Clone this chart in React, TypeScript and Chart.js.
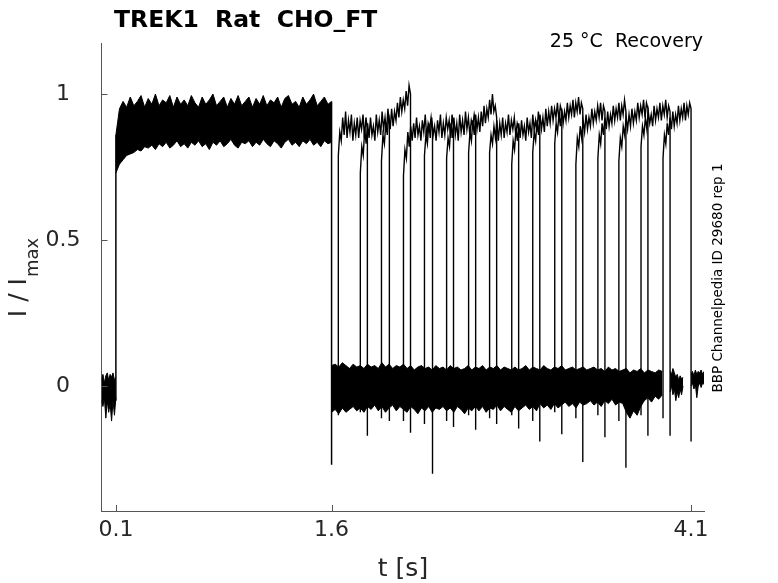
import { useEffect, useRef } from 'react';
import { Chart, registerables, ChartConfiguration, Plugin } from 'chart.js';

Chart.register(...registerables);

// axis ticks
const xTicks = [0.1, 1.6, 4.1];
const yTicks = [0, 0.5, 1];

// pulse on / off for the conditioning step
const onTime = 0.1;
const offTime = 1.6;
const onEdgeLow = -0.05;
const offSpike = -0.27;

// baseline before the pulse, t = 0 .. 0.1 (step 0.01)
const preStep = 0.01;
const preTop = [0.02, 0.04, 0.01, 0.035, 0.045, 0.02, 0.04, 0.03, 0.045, 0.02, 0.03];
const preBot = [-0.05, -0.07, -0.04, -0.11, -0.05, -0.09, -0.06, -0.12, -0.05, -0.1, -0.04];

// conditioning pulse envelope, t = 0.1 .. 1.6 (step 0.025)
const activeStep = 0.025;
const activeTop = [
  0.86, 0.95, 0.975, 0.955, 0.99, 0.96, 0.975, 0.995, 0.955, 0.985,
  0.965, 1.0, 0.96, 0.98, 0.97, 0.995, 0.955, 0.99, 0.965, 0.98,
  0.96, 0.995, 0.97, 0.955, 0.99, 0.965, 0.98, 1.0, 0.96, 0.975,
  0.99, 0.955, 0.985, 0.965, 0.995, 0.96, 0.975, 0.99, 0.955, 0.985,
  0.965, 0.995, 0.96, 0.98, 0.97, 0.99, 0.955, 0.985, 0.995, 0.965,
  0.975, 0.955, 0.99, 0.965, 0.98, 1.0, 0.96, 0.975, 0.99, 0.965, 0.975,
];
const activeBot = [
  0.73, 0.76, 0.775, 0.79, 0.795, 0.8, 0.81, 0.805, 0.82, 0.815,
  0.825, 0.81, 0.83, 0.82, 0.835, 0.815, 0.825, 0.84, 0.82, 0.83,
  0.815, 0.835, 0.825, 0.84, 0.82, 0.83, 0.81, 0.835, 0.825, 0.84,
  0.82, 0.83, 0.845, 0.825, 0.815, 0.835, 0.83, 0.84, 0.82, 0.835,
  0.825, 0.845, 0.83, 0.82, 0.84, 0.83, 0.815, 0.835, 0.845, 0.825,
  0.835, 0.82, 0.84, 0.83, 0.845, 0.825, 0.835, 0.82, 0.84, 0.83, 0.835,
];

// baseline after the pulse, t = 1.6 .. 3.9 (step 0.025)
const baseStep = 0.025;
const baseTop = [
  0.07, 0.075, 0.065, 0.08, 0.07, 0.06, 0.075, 0.065, 0.07, 0.06, 0.075,
  0.065, 0.07, 0.06, 0.08, 0.065, 0.075, 0.06, 0.07, 0.065, 0.075,
  0.06, 0.07, 0.055, 0.065, 0.07, 0.06, 0.065, 0.055, 0.07, 0.06,
  0.065, 0.055, 0.07, 0.06, 0.065, 0.055, 0.06, 0.07, 0.055, 0.065,
  0.06, 0.07, 0.055, 0.065, 0.06, 0.07, 0.055, 0.065, 0.06, 0.055,
  0.065, 0.055, 0.06, 0.07, 0.055, 0.065, 0.06, 0.055, 0.07, 0.06,
  0.055, 0.065, 0.06, 0.07, 0.055, 0.06, 0.065, 0.055, 0.06, 0.065,
  0.055, 0.06, 0.065, 0.055, 0.06, 0.05, 0.065, 0.055, 0.06, 0.05,
  0.055, 0.06, 0.045, 0.055, 0.05, 0.06, 0.045, 0.055, 0.05, 0.045,
  0.055, 0.05,
];
const baseBot = [
  -0.09, -0.08, -0.095, -0.075, -0.09, -0.08, -0.07, -0.085, -0.075, -0.09, -0.07,
  -0.08, -0.065, -0.085, -0.07, -0.09, -0.075, -0.065, -0.085, -0.07, -0.08,
  -0.09, -0.07, -0.08, -0.095, -0.075, -0.085, -0.07, -0.09, -0.075, -0.08,
  -0.07, -0.085, -0.075, -0.09, -0.07, -0.08, -0.095, -0.075, -0.085, -0.07,
  -0.085, -0.07, -0.09, -0.075, -0.08, -0.065, -0.085, -0.07, -0.08, -0.09,
  -0.07, -0.085, -0.075, -0.065, -0.08, -0.07, -0.085, -0.06, -0.075, -0.065,
  -0.08, -0.06, -0.075, -0.065, -0.055, -0.07, -0.06, -0.075, -0.055, -0.065,
  -0.06, -0.05, -0.065, -0.055, -0.07, -0.05, -0.06, -0.045, -0.065, -0.055,
  -0.06, -0.09, -0.11, -0.085, -0.1, -0.07, -0.05, -0.04, -0.055, -0.035,
  -0.045, -0.03,
];

// short baseline pieces at the end (step 0.01)
const tailStep = 0.01;
const tailAStart = 3.954;
const tailATop = [0.05, 0.04, 0.06, 0.045, 0.03, 0.04, 0.02, 0.035, 0.025, 0.03];
const tailABot = [-0.02, 0.0, -0.03, -0.01, -0.05, -0.02, -0.04, -0.01, -0.03, 0.0];
const tailBStart = 4.1;
const tailBTop = [0.04, 0.05, 0.035, 0.055, 0.04, 0.05, 0.045, 0.055, 0.04, 0.05];
const tailBBot = [0.0, 0.01, -0.01, 0.005, -0.04, 0.0, 0.01, -0.005, 0.01, 0.005];

// recovery test pulses
const upTimes = [1.647, 1.8, 1.947, 2.1, 2.246, 2.4, 2.553, 2.699, 2.853, 2.999, 3.152, 3.299, 3.452, 3.598, 3.752, 3.905];
const downTimes = [1.849, 2.002, 2.149, 2.302, 2.448, 2.602, 2.748, 2.901, 3.048, 3.201, 3.347, 3.501, 3.647, 3.8, 3.954, 4.1];
const upSpikes = [-0.1, -0.09, -0.11, -0.12, -0.13, -0.12, -0.1, -0.11, -0.1, -0.12, -0.09, -0.11, -0.1, -0.12, -0.1, -0.11];
const downSpikes = [-0.17, -0.12, -0.16, -0.3, -0.14, -0.15, -0.13, -0.145, -0.19, -0.165, -0.26, -0.175, -0.28, -0.17, -0.17, -0.19];
const sweepTraces = [
  [0.79, 0.87, 0.84, 0.92, 0.86, 0.94, 0.85, 0.91, 0.87, 0.93, 0.84, 0.9, 0.86, 0.92, 0.85, 0.91, 0.88, 0.93, 0.85, 0.92, 0.88],
  [0.73, 0.82, 0.79, 0.88, 0.83, 0.9, 0.85, 0.92, 0.86, 0.89, 0.84, 0.93, 0.87, 0.91, 0.86, 0.94, 0.88, 0.92, 0.87, 0.95, 0.9],
  [0.77, 0.86, 0.83, 0.9, 0.86, 0.93, 0.88, 0.95, 0.89, 0.94, 0.91, 0.97, 0.92, 0.99, 0.94, 0.98, 0.95, 1.01, 0.96, 1.03, 1.0],
  [0.72, 0.81, 0.78, 0.87, 0.82, 0.89, 0.84, 0.9, 0.85, 0.92, 0.86, 0.89, 0.84, 0.91, 0.87, 0.93, 0.85, 0.9, 0.88, 0.92, 0.87],
  [0.79, 0.86, 0.83, 0.9, 0.85, 0.92, 0.86, 0.89, 0.84, 0.91, 0.87, 0.93, 0.85, 0.9, 0.86, 0.92, 0.88, 0.91, 0.85, 0.93, 0.89],
  [0.78, 0.85, 0.82, 0.9, 0.85, 0.92, 0.86, 0.9, 0.84, 0.93, 0.87, 0.91, 0.86, 0.94, 0.88, 0.92, 0.86, 0.91, 0.89, 0.93, 0.9],
  [0.8, 0.87, 0.84, 0.91, 0.86, 0.93, 0.88, 0.92, 0.87, 0.94, 0.89, 0.96, 0.9, 0.95, 0.92, 0.98, 0.93, 1.0, 0.94, 0.96, 0.92],
  [0.8, 0.86, 0.83, 0.89, 0.85, 0.91, 0.84, 0.9, 0.86, 0.92, 0.85, 0.9, 0.87, 0.93, 0.86, 0.91, 0.88, 0.92, 0.86, 0.9, 0.88],
  [0.76, 0.84, 0.81, 0.88, 0.84, 0.9, 0.85, 0.91, 0.86, 0.89, 0.84, 0.92, 0.87, 0.9, 0.85, 0.93, 0.88, 0.91, 0.87, 0.94, 0.9],
  [0.8, 0.87, 0.84, 0.91, 0.86, 0.93, 0.88, 0.92, 0.87, 0.95, 0.89, 0.94, 0.9, 0.96, 0.91, 0.95, 0.92, 0.97, 0.91, 0.96, 0.94],
  [0.83, 0.9, 0.87, 0.93, 0.89, 0.95, 0.9, 0.94, 0.91, 0.97, 0.92, 0.96, 0.93, 0.98, 0.92, 0.97, 0.94, 0.99, 0.93, 0.97, 0.95],
  [0.76, 0.85, 0.82, 0.89, 0.85, 0.91, 0.87, 0.93, 0.88, 0.92, 0.89, 0.95, 0.9, 0.94, 0.91, 0.96, 0.92, 0.97, 0.91, 0.96, 0.94],
  [0.78, 0.86, 0.83, 0.9, 0.86, 0.92, 0.88, 0.94, 0.89, 0.93, 0.9, 0.96, 0.91, 0.95, 0.92, 0.97, 0.91, 0.96, 0.93, 0.98, 0.94],
  [0.77, 0.85, 0.82, 0.89, 0.86, 0.92, 0.88, 0.93, 0.89, 0.95, 0.9, 0.94, 0.91, 0.97, 0.92, 0.96, 0.93, 0.98, 0.92, 0.97, 0.95],
  [0.82, 0.89, 0.86, 0.92, 0.88, 0.94, 0.9, 0.93, 0.89, 0.96, 0.91, 0.95, 0.92, 0.97, 0.91, 0.96, 0.93, 0.98, 0.92, 0.96, 0.94],
  [0.78, 0.86, 0.83, 0.9, 0.86, 0.92, 0.88, 0.94, 0.89, 0.93, 0.9, 0.96, 0.91, 0.95, 0.92, 0.97, 0.91, 0.96, 0.93, 0.97, 0.95],
];

const FONT = "'DejaVu Sans', sans-serif";
const TEXT = '#262626';
const AXIS = '#555555';

const series = (start: number, step: number, vals: number[]) =>
  vals.map((v, i) => ({ x: start + i * step, y: v }));

const band = (start: number, step: number, top: number[], bot: number[]) => [
  {
    data: series(start, step, top),
    borderColor: '#000',
    backgroundColor: '#000',
    borderWidth: 1,
    pointRadius: 0,
    fill: '+1',
  },
  {
    data: series(start, step, bot),
    borderColor: '#000',
    backgroundColor: '#000',
    borderWidth: 1,
    pointRadius: 0,
    fill: false,
  },
];

const sweepData = (i: number) => {
  const a = upTimes[i];
  const b = downTimes[i];
  const vals = sweepTraces[i];
  const dt = (b - a) / (vals.length - 1);
  return [
    { x: a, y: 0 },
    { x: a, y: upSpikes[i] },
    ...vals.map((v, k) => ({ x: a + k * dt, y: v })),
    { x: b, y: downSpikes[i] },
    { x: b, y: 0 },
  ];
};

const decor: Plugin<'line'> = {
  id: 'decor',
  afterDraw(chart) {
    const { ctx, chartArea, scales } = chart;
    const xs = scales.x;
    const ys = scales.y;
    ctx.save();
    // inward tick marks
    ctx.strokeStyle = AXIS;
    ctx.lineWidth = 1;
    ctx.beginPath();
    xTicks.forEach((v) => {
      const px = Math.round(xs.getPixelForValue(v)) + 0.5;
      ctx.moveTo(px, chartArea.bottom);
      ctx.lineTo(px, chartArea.bottom - 6);
    });
    yTicks.forEach((v) => {
      const py = Math.round(ys.getPixelForValue(v)) + 0.5;
      ctx.moveTo(chartArea.left, py);
      ctx.lineTo(chartArea.left + 6, py);
    });
    ctx.stroke();

    // title
    ctx.fillStyle = '#000';
    ctx.textBaseline = 'alphabetic';
    ctx.textAlign = 'left';
    ctx.font = `bold 23.5px ${FONT}`;
    ctx.fillText('TREK1  Rat  CHO_FT', 114, 27);

    ctx.font = `19px ${FONT}`;
    ctx.textAlign = 'right';
    ctx.fillText('25 °C  Recovery', 703, 47);

    // x label
    ctx.fillStyle = TEXT;
    ctx.textAlign = 'center';
    ctx.font = `25px ${FONT}`;
    ctx.fillText('t [s]', 403, 576);

    // y label with subscript
    ctx.save();
    ctx.translate(26, 278);
    ctx.rotate(-Math.PI / 2);
    ctx.textAlign = 'left';
    ctx.font = `25px ${FONT}`;
    const main = 'I / I';
    const wMain = ctx.measureText(main).width;
    ctx.font = `18px ${FONT}`;
    const wSub = ctx.measureText('max').width;
    const x0 = -(wMain + wSub) / 2;
    ctx.font = `25px ${FONT}`;
    ctx.fillText(main, x0, 0);
    ctx.font = `18px ${FONT}`;
    ctx.fillText('max', x0 + wMain + 1, 12);
    ctx.restore();

    // right side note
    ctx.save();
    ctx.translate(722, 278);
    ctx.rotate(-Math.PI / 2);
    ctx.fillStyle = '#000';
    ctx.textAlign = 'center';
    ctx.font = `13.5px ${FONT}`;
    ctx.fillText('BBP Channelpedia ID 29680 rep 1', 0, 0);
    ctx.restore();

    ctx.restore();
  },
};

const App = () => {
  const canvasRef = useRef<HTMLCanvasElement | null>(null);
  const chartInstance = useRef<Chart<'line'> | null>(null);

  useEffect(() => {
    if (!canvasRef.current) return;
    if (chartInstance.current) chartInstance.current.destroy();

    const datasets: any[] = [
      ...band(0, preStep, preTop, preBot),
      ...band(onTime, activeStep, activeTop, activeBot),
      ...band(offTime, baseStep, baseTop, baseBot),
      ...band(tailAStart, tailStep, tailATop, tailABot),
      ...band(tailBStart, tailStep, tailBTop, tailBBot),
      {
        data: [
          { x: onTime, y: onEdgeLow },
          { x: onTime, y: activeTop[0] },
        ],
        borderColor: '#000',
        borderWidth: 1.5,
        pointRadius: 0,
        fill: false,
      },
      {
        data: [
          { x: offTime, y: activeTop[activeTop.length - 1] },
          { x: offTime, y: offSpike },
          { x: offTime, y: 0 },
        ],
        borderColor: '#000',
        borderWidth: 1.5,
        pointRadius: 0,
        fill: false,
      },
      ...upTimes.map((_, i) => ({
        data: sweepData(i),
        borderColor: '#000',
        borderWidth: 1.4,
        pointRadius: 0,
        fill: false,
      })),
    ];

    const config: ChartConfiguration<'line'> = {
      type: 'line',
      data: { datasets },
      options: {
        animation: false,
        responsive: true,
        maintainAspectRatio: false,
        layout: { padding: { top: 43, right: 74, left: 0, bottom: 0 } },
        elements: { line: { tension: 0 } },
        plugins: {
          legend: { display: false },
          tooltip: { enabled: false },
          title: { display: false },
        },
        scales: {
          x: {
            type: 'linear',
            min: 0,
            max: 4.19,
            afterBuildTicks: (scale) => {
              scale.ticks = xTicks.map((value) => ({ value }));
            },
            afterFit: (scale) => {
              scale.height = 72;
            },
            grid: { display: true, drawOnChartArea: false, drawTicks: false },
            border: { display: true, color: AXIS, width: 1 },
            ticks: {
              autoSkip: false,
              maxRotation: 0,
              minRotation: 0,
              padding: 6,
              color: TEXT,
              font: { family: FONT, size: 22 },
              callback: (v) => String(v),
            },
          },
          y: {
            type: 'linear',
            min: -0.428,
            max: 1.175,
            afterBuildTicks: (scale) => {
              scale.ticks = yTicks.map((value) => ({ value }));
            },
            afterFit: (scale) => {
              scale.width = 101.5;
            },
            grid: { display: true, drawOnChartArea: false, drawTicks: false },
            border: { display: true, color: AXIS, width: 1 },
            ticks: {
              crossAlign: 'center',
              padding: 21,
              color: TEXT,
              font: { family: FONT, size: 22 },
              callback: (v) => String(v),
            },
          },
        },
      },
      plugins: [decor],
    };

    chartInstance.current = new Chart(canvasRef.current, config);

    return () => {
      if (chartInstance.current) {
        chartInstance.current.destroy();
        chartInstance.current = null;
      }
    };
  }, []);

  return (
    <div style={{ position: 'fixed', left: 0, top: 0, width: 778, height: 583, background: '#fff' }}>
      <canvas ref={canvasRef} />
    </div>
  );
};

export default App;
